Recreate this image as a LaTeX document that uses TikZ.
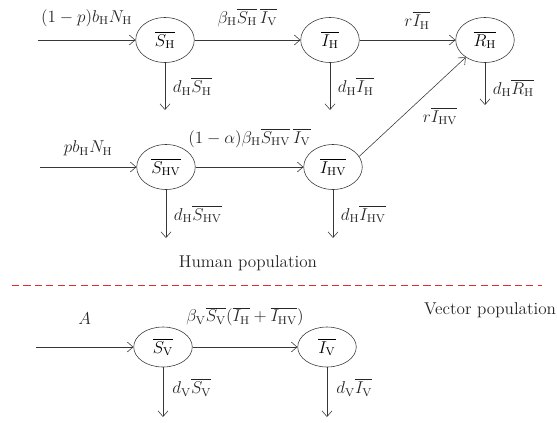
\documentclass[tikz,border=0pt]{standalone}
\usepackage{amsmath}
\usepackage{tikz}
\usetikzlibrary{arrows.meta,shapes.geometric,positioning}
\definecolor{linegray}{RGB}{55,55,55}
\definecolor{dashred}{RGB}{225,45,45}
\newcommand{\rmH}{\mathrm{H}}
\newcommand{\rmV}{\mathrm{V}}
\newcommand{\rmHV}{\mathrm{HV}}
\tikzset{
  popnode/.style={ellipse,draw=linegray,minimum width=41pt,minimum height=31.5pt,inner sep=0pt,font=\fontsize{11.5}{13}\selectfont},
  vecnode/.style={popnode,minimum width=41pt,minimum height=28pt},
  flow/.style={-{Straight Barb[length=4pt,width=7pt]},color=linegray},
  rate/.style={font=\fontsize{11.5}{13}\selectfont,text=black!85},
  poptext/.style={font=\fontsize{12}{14}\selectfont,text=black!85},
  sepline/.style={draw=dashred,semithick,dash pattern=on 5pt off 3pt}
}

\begin{document}
\begin{tikzpicture}[x=0.7pt,y=0.7pt]
  \useasboundingbox (0,0) rectangle (557,422);
  % human compartments
  \node[popnode] (sh) at (165,382) {$\overline{S_\rmH}$};
  \node[popnode] (ih) at (330,382) {$\overline{I_\rmH}$};
  \node[popnode] (rh) at (485,382) {$\overline{R_\rmH}$};
  \node[popnode] (shv) at (166,255) {$\overline{S_\rmHV}$};
  \node[popnode] (ihv) at (333,255) {$\overline{I_\rmHV}$};
  % vector compartments
  \node[vecnode] (sv) at (163,75) {$\overline{S_\rmV}$};
  \node[vecnode] (iv) at (327,75) {$\overline{I_\rmV}$};
  % free ends
  \coordinate (inh) at (38,382);
  \coordinate (inhv) at (40,255);
  \coordinate (inv) at (36,75);
  \coordinate (outsh) at (sh |- 0,312);
  \coordinate (outih) at (ih |- 0,312);
  \coordinate (outrh) at (rh |- 0,317);
  \coordinate (outshv) at (shv |- 0,184);
  \coordinate (outihv) at (ihv |- 0,184);
  \coordinate (outsv) at (sv |- 0,5);
  \coordinate (outiv) at (iv |- 0,5);

  \draw[flow] (inh) -- node[rate,above=6pt] {$(1-p)b_\rmH N_\rmH$} (sh);
  \draw[flow] (sh) -- node[rate,above=6pt] {$\beta_\rmH\overline{S_\rmH}\,\overline{I_\rmV}$} (ih);
  \draw[flow] (ih) -- node[rate,above=4pt,pos=0.6] {$r\overline{I_\rmH}$} (rh);
  \draw[flow] (sh) -- node[rate,right=2pt] {$d_\rmH\overline{S_\rmH}$} (outsh);
  \draw[flow] (ih) -- node[rate,right=2pt] {$d_\rmH\overline{I_\rmH}$} (outih);
  \draw[flow] (rh) -- node[rate,right=2pt,pos=0.6] {$d_\rmH\overline{R_\rmH}$} (outrh);

  \draw[flow] (inhv) -- node[rate,above=4pt] {$pb_\rmH N_\rmH$} (shv);
  \draw[flow] (shv) -- node[rate,above=10pt] {$(1-\alpha)\beta_\rmH\overline{S_\rmHV}\,\overline{I_\rmV}$} (ihv);
  \draw[flow] (ihv.22) -- node[rate,below right,pos=0.55] {$r\overline{I_\rmHV}$} (rh.222);
  \draw[flow] (shv) -- node[rate,right=2pt] {$d_\rmH\overline{S_\rmHV}$} (outshv);
  \draw[flow] (ihv) -- node[rate,right=2pt] {$d_\rmH\overline{I_\rmHV}$} (outihv);

  \node[poptext] (humlab) at (248,159) {Human population};
  \draw[sepline] (12,137) -- (542,137);
  \node[poptext,anchor=west] (veclab) at (419,112) {Vector population};

  \draw[flow] (inv) -- node[rate,above=12pt] {$A$} (sv);
  \draw[flow] (sv) -- node[rate,above=11pt] {$\beta_\rmV\overline{S_\rmV}(\overline{I_\rmH}+\overline{I_\rmHV})$} (iv);
  \draw[flow] (sv) -- node[rate,right=3pt,pos=0.4] {$d_\rmV\overline{S_\rmV}$} (outsv);
  \draw[flow] (iv) -- node[rate,right=3pt,pos=0.4] {$d_\rmV\overline{I_\rmV}$} (outiv);
\end{tikzpicture}
\end{document}
